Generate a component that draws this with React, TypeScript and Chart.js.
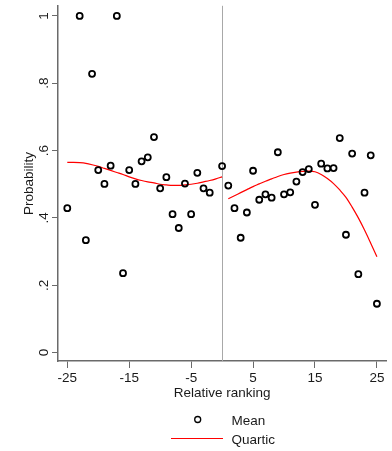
import React, { useEffect, useRef } from 'react';
import { Chart, registerables } from 'chart.js';

Chart.register(...registerables);

// ---- Data ----
const meanX = [
  -25, -23, -22, -21, -20, -19, -18, -17, -16, -15, -14, -13, -12, -11, -10, -9, -8, -7, -6, -5, -4, -3, -2, 0,
  1, 2, 3, 4, 5, 6, 7, 8, 9, 10, 11, 12, 13, 14, 15, 16, 17, 18, 19, 20, 21, 22, 23, 24, 25,
];
const meanY = [
  0.429, 1.0, 0.334, 0.828, 0.542, 0.501, 0.555, 1.0, 0.236, 0.542, 0.501, 0.568, 0.58, 0.64, 0.488, 0.521, 0.411,
  0.37, 0.502, 0.411, 0.534, 0.488, 0.475, 0.554,
  0.496, 0.429, 0.341, 0.416, 0.54, 0.454, 0.47, 0.46, 0.595, 0.47, 0.476, 0.508, 0.536, 0.545, 0.439, 0.561, 0.547,
  0.548, 0.637, 0.35, 0.591, 0.233, 0.475, 0.586, 0.145,
];

const leftFitX = [-25, -24, -23, -22, -21, -20, -19, -18, -17, -16, -15, -14, -13, -12, -11, -10, -9, -8, -7, -6, -5, -4, -3, -2, -1, 0];
const leftFitY = [
  0.565, 0.565, 0.564, 0.562, 0.558, 0.553, 0.547, 0.541, 0.535, 0.529, 0.522, 0.516, 0.511, 0.507, 0.504, 0.5,
  0.498, 0.4965, 0.4965, 0.498, 0.5, 0.503, 0.507, 0.511, 0.516, 0.522,
];

const rightFitX = [1, 2, 3, 4, 5, 6, 7, 8, 9, 10, 11, 12, 13, 14, 15, 16, 17, 18, 19, 20, 21, 22, 23, 24, 25];
const rightFitY = [
  0.457, 0.466, 0.475, 0.484, 0.493, 0.501, 0.509, 0.516, 0.523, 0.529, 0.533, 0.536, 0.538, 0.539, 0.537, 0.529,
  0.517, 0.502, 0.483, 0.461, 0.432, 0.4, 0.364, 0.325, 0.285,
];

const xTicks = [-25, -15, -5, 5, 15, 25];
const xTickLabels = ['-25', '-15', '-5', '5', '15', '25'];
const yTicks = [0, 0.2, 0.4, 0.6, 0.8, 1];
const yTickLabels = ['0', '.2', '.4', '.6', '.8', '1'];

const xTitle = 'Relative ranking';
const yTitle = 'Probability';
const legendLabels = ['Mean', 'Quartic'];

const FONT = '13.5px "Liberation Sans", Arial, sans-serif';
const TEXT = '#1a1a1a';
const AXIS = '#6a6a6a';

export default function App() {
  const ref = useRef<HTMLCanvasElement | null>(null);

  useEffect(() => {
    const canvas = ref.current;
    if (!canvas) return;

    const decor = {
      id: 'decor',
      beforeDatasetsDraw(chart: any) {
        const { ctx, chartArea, scales } = chart;
        const px = Math.round(scales.x.getPixelForValue(0)) + 0.5;
        ctx.save();
        ctx.strokeStyle = '#a8a8a8';
        ctx.lineWidth = 1;
        ctx.beginPath();
        ctx.moveTo(px, chartArea.top);
        ctx.lineTo(px, chartArea.bottom);
        ctx.stroke();
        ctx.restore();
      },
      afterDraw(chart: any) {
        const { ctx, chartArea, scales } = chart;
        ctx.save();
        ctx.font = FONT;
        ctx.fillStyle = TEXT;

        // y tick labels (rotated)
        yTicks.forEach((v, i) => {
          const py = scales.y.getPixelForValue(v);
          ctx.save();
          ctx.translate(47.5, py);
          ctx.rotate(-Math.PI / 2);
          ctx.textAlign = 'center';
          ctx.textBaseline = 'alphabetic';
          ctx.fillText(yTickLabels[i], 0, 0);
          ctx.restore();
        });

        // x tick labels
        ctx.textAlign = 'center';
        ctx.textBaseline = 'alphabetic';
        xTicks.forEach((v, i) => {
          const px = scales.x.getPixelForValue(v);
          ctx.fillText(xTickLabels[i], px, 382);
        });

        // x title
        const cx = (chartArea.left + chartArea.right) / 2;
        ctx.fillText(xTitle, cx, 396.5);

        // y title
        const cy = (chartArea.top + chartArea.bottom) / 2;
        ctx.save();
        ctx.translate(32.5, cy);
        ctx.rotate(-Math.PI / 2);
        ctx.textAlign = 'center';
        ctx.fillText(yTitle, 0, 0);
        ctx.restore();

        // legend
        ctx.textAlign = 'left';
        ctx.strokeStyle = '#000';
        ctx.lineWidth = 1.3;
        ctx.beginPath();
        ctx.arc(197.7, 419.5, 3, 0, Math.PI * 2);
        ctx.stroke();
        ctx.fillText(legendLabels[0], 231.5, 425);

        ctx.strokeStyle = '#ff0000';
        ctx.lineWidth = 1.2;
        ctx.beginPath();
        ctx.moveTo(171, 438.5);
        ctx.lineTo(223, 438.5);
        ctx.stroke();
        ctx.fillText(legendLabels[1], 231.5, 444);
        ctx.restore();
      },
    };

    const fitStyle = {
      showLine: true,
      borderColor: '#ff0000',
      backgroundColor: '#ff0000',
      borderWidth: 1.2,
      pointRadius: 0,
      cubicInterpolationMode: 'monotone' as const,
    };

    const chart = new Chart(canvas, {
      type: 'scatter',
      data: {
        datasets: [
          {
            label: legendLabels[0],
            data: meanX.map((x, i) => ({ x, y: meanY[i] })),
            showLine: false,
            pointStyle: 'circle',
            pointRadius: 3,
            pointBorderWidth: 1.8,
            borderColor: '#000',
            backgroundColor: 'rgba(0,0,0,0)',
            order: 0,
          },
          {
            label: legendLabels[1],
            data: leftFitX.map((x, i) => ({ x, y: leftFitY[i] })),
            ...fitStyle,
            order: 1,
          },
          {
            label: legendLabels[1] + ' (right)',
            data: rightFitX.map((x, i) => ({ x, y: rightFitY[i] })),
            ...fitStyle,
            order: 1,
          },
        ],
      },
      options: {
        animation: false,
        responsive: false,
        maintainAspectRatio: false,
        layout: { padding: { top: 4, right: 2, left: 0, bottom: 0 } },
        plugins: {
          legend: { display: false },
          tooltip: { enabled: false },
        },
        scales: {
          x: {
            type: 'linear',
            min: -26.5,
            max: 26.5,
            afterBuildTicks: (s: any) => {
              s.ticks = xTicks.map((v) => ({ value: v }));
            },
            afterFit: (s: any) => {
              s.height = 90;
            },
            ticks: { display: false },
            grid: {
              display: true,
              drawOnChartArea: false,
              drawTicks: true,
              tickLength: 7,
              color: AXIS,
              lineWidth: 1,
            },
            border: { display: true, color: AXIS, width: 1.5 },
          },
          y: {
            type: 'linear',
            min: -0.025,
            max: 1.03,
            afterBuildTicks: (s: any) => {
              s.ticks = yTicks.map((v) => ({ value: v }));
            },
            afterFit: (s: any) => {
              s.width = 58;
            },
            ticks: { display: false },
            grid: {
              display: true,
              drawOnChartArea: false,
              drawTicks: true,
              tickLength: 6,
              color: AXIS,
              lineWidth: 1,
            },
            border: { display: true, color: AXIS, width: 1.5 },
          },
        },
      },
      plugins: [decor],
    });

    return () => chart.destroy();
  }, []);

  return (
    <div style={{ position: 'absolute', left: 0, top: 0, width: 392, height: 451, background: '#fff' }}>
      <canvas ref={ref} width={392} height={451} style={{ display: 'block' }} />
    </div>
  );
}
